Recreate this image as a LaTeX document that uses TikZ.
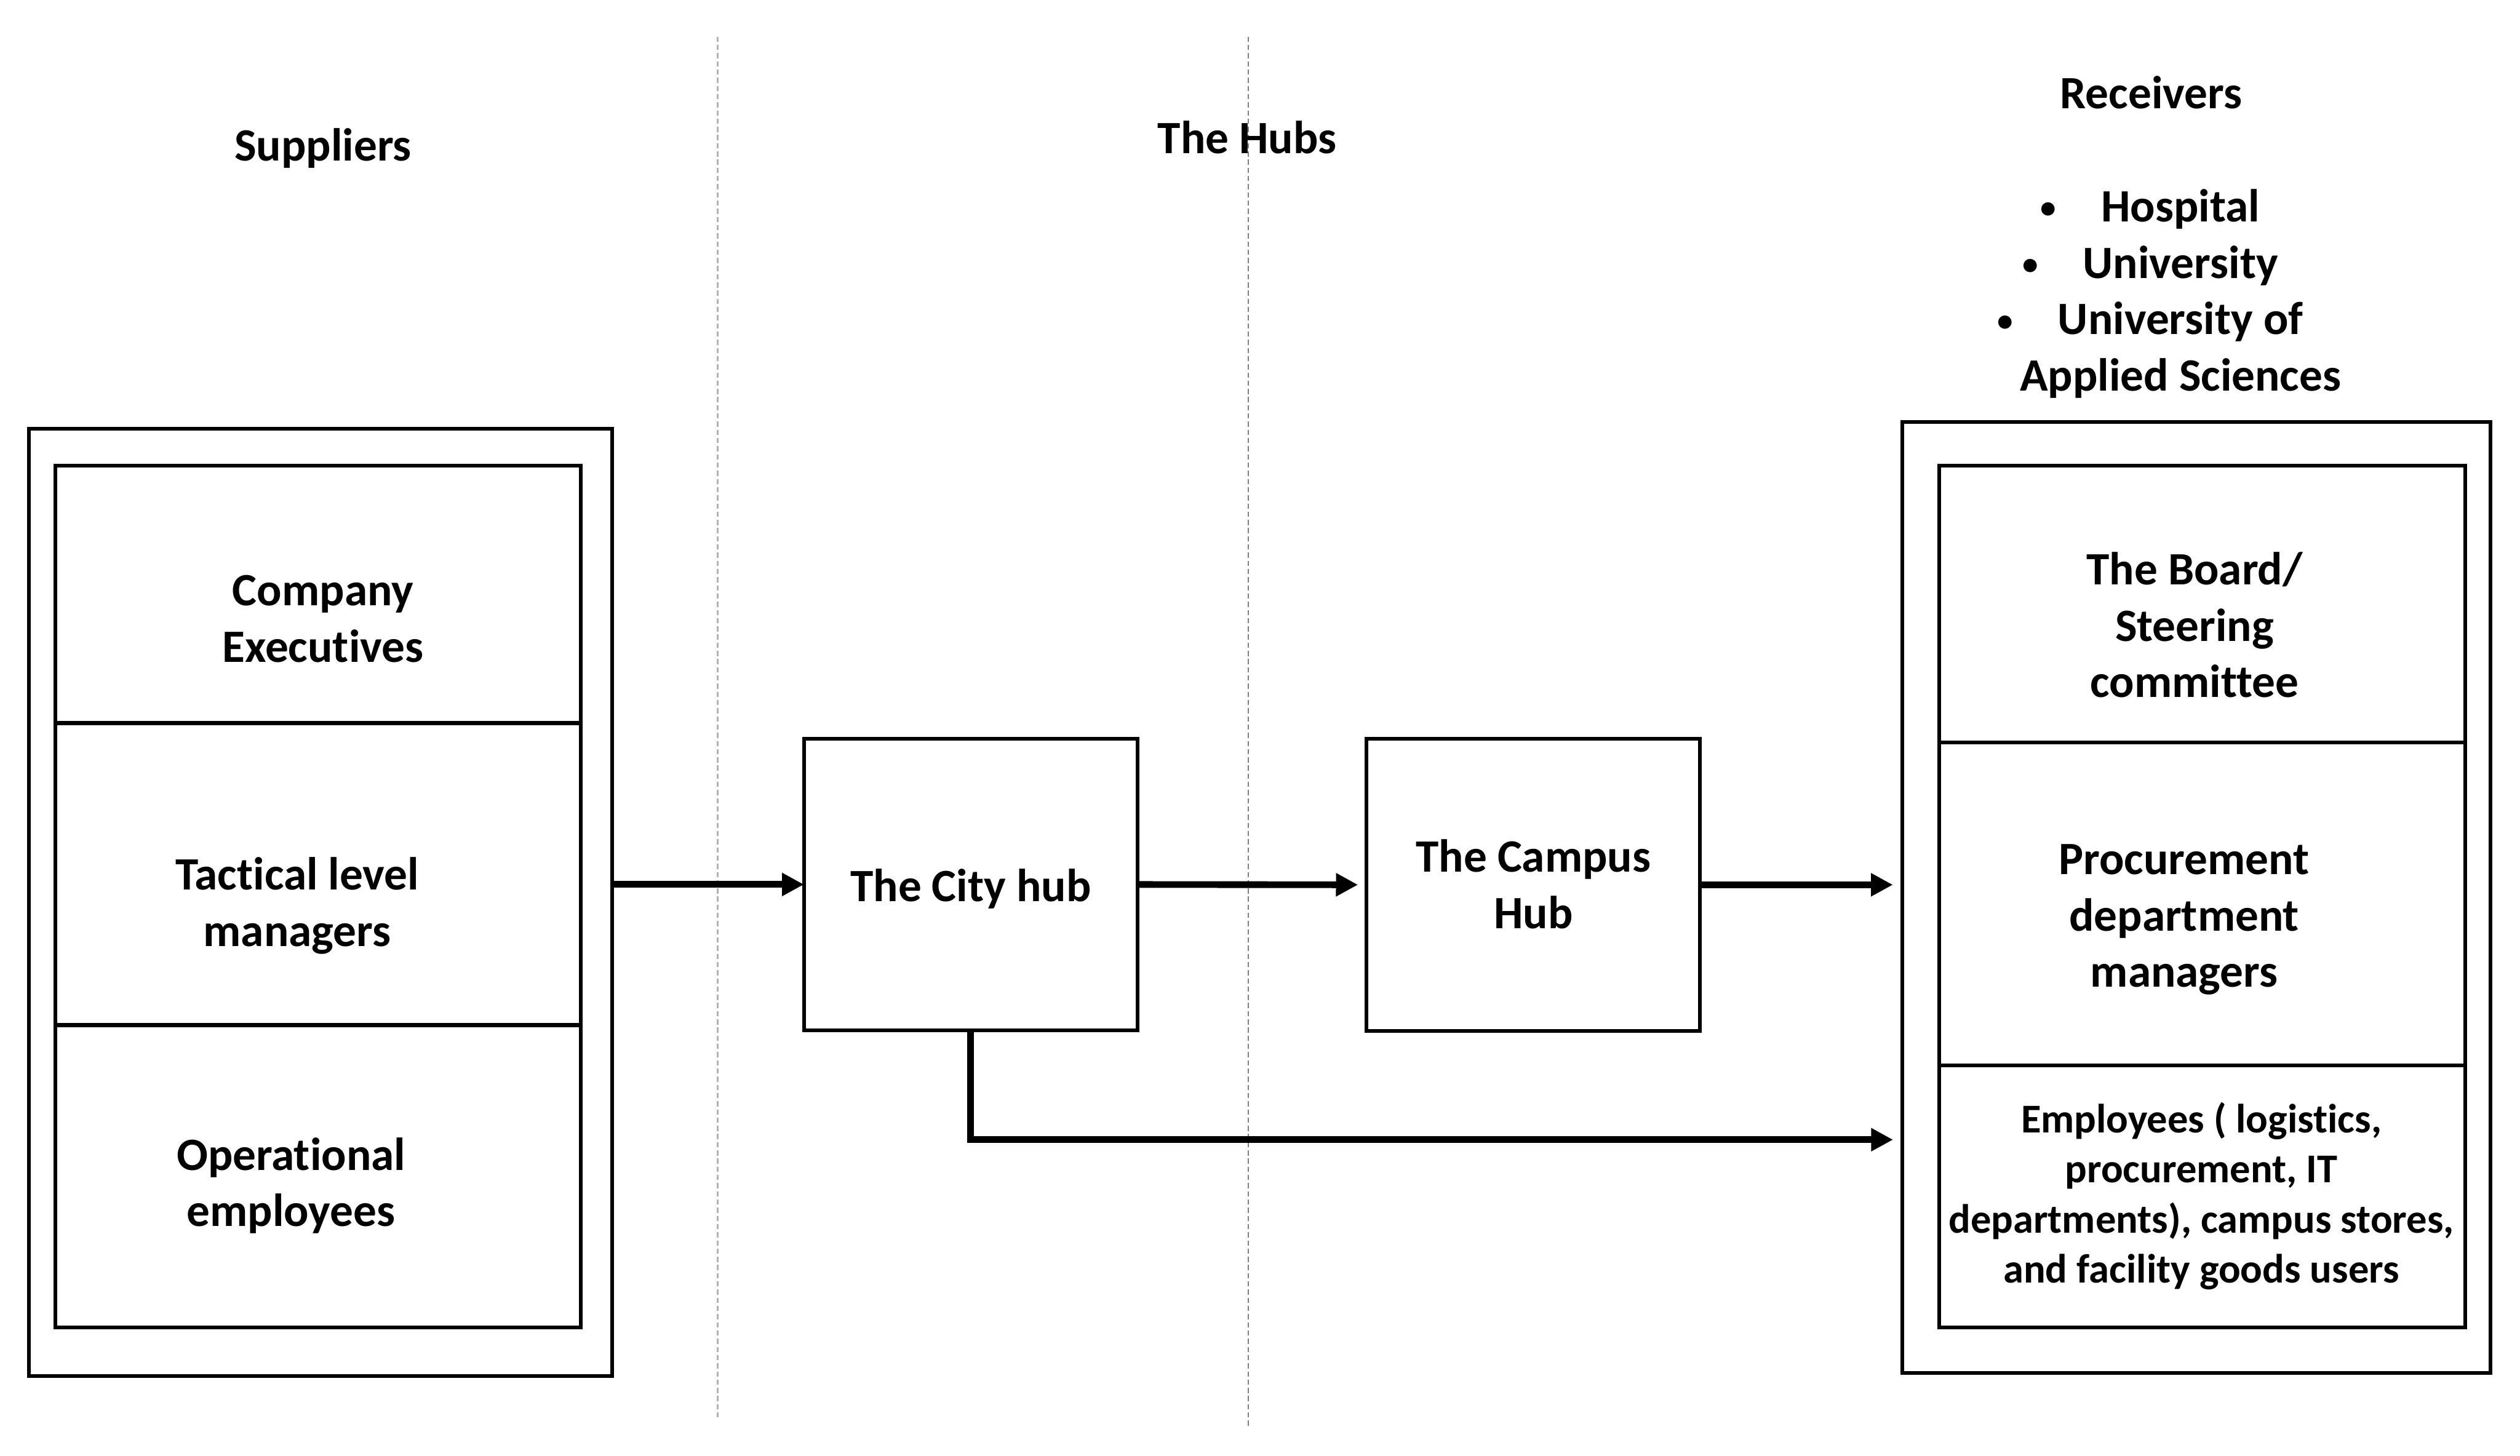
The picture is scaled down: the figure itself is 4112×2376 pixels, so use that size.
\documentclass[tikz,border=0pt]{standalone}
\usepackage{fontspec}
\setmainfont{Carlito}[Ligatures=NoCommon]
\usetikzlibrary{arrows.meta}
\newcommand\mkbox[5]{\node[box, minimum width={(#4-#2)*0.28453pt}, minimum height={(#5-#3)*0.28453pt}] (#1) at ({(#2+#4)/2},{(#3+#5)/2}) {};}
\newcommand\bulletmark{\llap{\makebox[0pt]{\raisebox{1.6pt}{\scalebox{0.68}{•}}}\hspace{24.5pt}}}
\begin{document}
\begin{tikzpicture}[x=0.01cm,y=-0.01cm,
  box/.style={draw=black, line width=1.7pt, inner sep=0pt, outer sep=0pt, rectangle},
  lbl/.style={font=\fontsize{21.5}{26.2}\selectfont\bfseries, align=center, inner sep=0pt},
  smalllbl/.style={font=\fontsize{19}{23.3}\selectfont\bfseries, align=center, inner sep=0pt},
  arr/.style={line width=3.1pt, -{Triangle[length=10.2pt,width=10.2pt]}},
  sepline/.style={dash pattern=on 2.4pt off 1.4pt, line width=0.6pt}]
\path[use as bounding box, fill=white] (0,0) rectangle (4112,2376);

% column separators
\coordinate (dlAtop) at (1171,60);
\coordinate (dlAbot) at (1171,2313);
\coordinate (dlBtop) at (2037,60);
\coordinate (dlBbot) at (2037,2329);
\draw[sepline, draw=black!30] (dlAtop) -- (dlAbot);
\draw[sepline, draw=black!50] (dlBtop) -- (dlBbot);

% headings
\node[lbl, anchor=base] (suppliers) at (527,263) {Suppliers};
\node[lbl, anchor=base] (hubs) at (2035,250) {The Hubs};
\node[lbl, anchor=base] (receivers) at (3510,177) {Receivers};
\node[lbl, anchor=base] (rcvA) at (3558,362) {\bulletmark Hospital};
\node[lbl, anchor=base] (rcvB) at (3558,454) {\bulletmark University};
\node[lbl, anchor=base] (rcvC) at (3558,546) {\bulletmark University of};
\node[lbl, anchor=base] (rcvD) at (3558,638) {Applied Sciences};

% suppliers
\mkbox{supOuter}{47}{700}{999}{2245}
\mkbox{supA}{91}{760}{947}{1180}
\mkbox{supB}{91}{1180}{947}{1673}
\mkbox{supC}{91}{1673}{947}{2166}
\node[lbl] (tExec) at (527,1010) {Company\\Executives};
\node[lbl] (tTact) at (485,1478) {Tactical level\\managers};
\node[lbl] (tOper) at (475,1935) {Operational\\employees};

% hubs
\mkbox{cityHub}{1312}{1206}{1856}{1681}
\mkbox{campusHub}{2230}{1206}{2774}{1682}
\node[lbl] (tCity) at (1584,1451) {The City hub};
\node[lbl] (tCampus) at (2502,1443) {The Campus\\Hub};

% receivers
\mkbox{recOuter}{3104}{689}{4063}{2240}
\mkbox{recA}{3165}{760}{4022}{1212}
\mkbox{recB}{3165}{1212}{4022}{1739}
\mkbox{recC}{3165}{1739}{4022}{2166}
\node[lbl] (tBoard) at (3581,1020) {The Board/\\Steering\\committee};
\node[lbl] (tProc) at (3564,1501) {Procurement\\department\\managers};
\node[smalllbl] (tEmp) at (3592,1952) {Employees ( logistics,\\procurement, IT\\departments), campus stores,\\and facility goods users};

% connectors
\coordinate (empEntry) at (3104,1860);
\draw[arr] (supOuter.east |- cityHub.west) -- (cityHub.west);
\draw[arr, shorten >=0.14cm] (cityHub.east) -- (campusHub.west);
\draw[arr, shorten >=0.15cm] (campusHub.east) -- (campusHub.east -| recOuter.west);
\draw[arr, shorten >=0.15cm] (cityHub.south) |- (empEntry);
\end{tikzpicture}
\end{document}
